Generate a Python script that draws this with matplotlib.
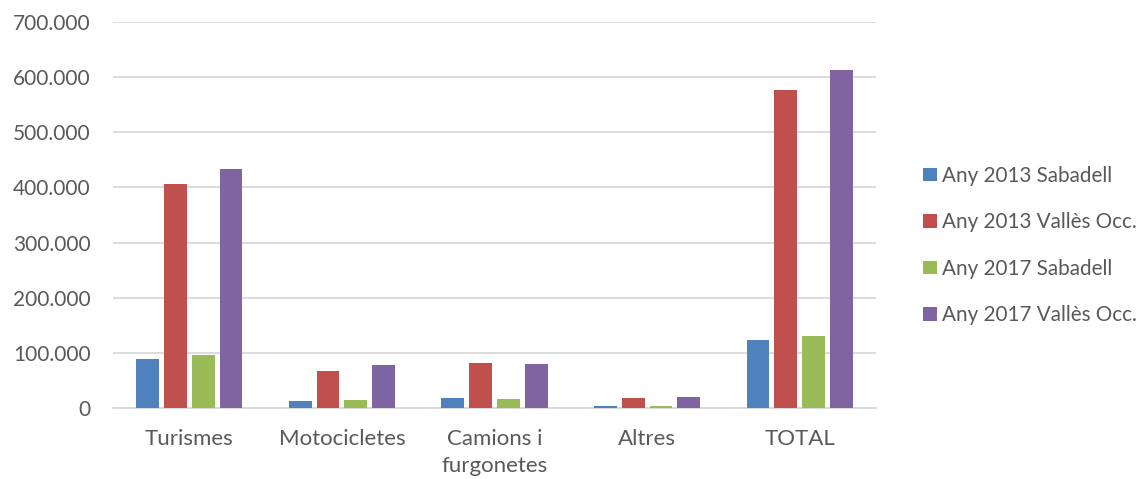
import numpy as np
import matplotlib
matplotlib.use('Agg')
import matplotlib.pyplot as plt
from matplotlib.ticker import FuncFormatter, MultipleLocator

# Categories and series
CATEGORIES = ['Turismes', 'Motocicletes', 'Camions i\nfurgonetes', 'Altres', 'TOTAL']
SERIES_LABELS = ['Any 2013 Sabadell', 'Any 2013 Vallès Occ.',
                 'Any 2017 Sabadell', 'Any 2017 Vallès Occ.']
SAB_2013 = [89700, 12700, 17500, 3200, 123400]
VALL_2013 = [405400, 67000, 82400, 19000, 576400]
SAB_2017 = [95600, 14000, 16700, 3000, 130700]
VALL_2017 = [433800, 77500, 80600, 19500, 612700]
COLORS = ['#4F81BD', '#C0504D', '#9BBB59', '#8064A2']

TEXT_COLOR = '#595959'
GRID_COLOR = '#D9D9D9'


def thousands(v, pos):
    return f'{int(v):,}'.replace(',', '.')


def main():
    plt.rcParams['font.family'] = ['Lato', 'DejaVu Sans']

    fig = plt.figure(figsize=(11.44, 4.79), dpi=100)
    ax = fig.add_axes([0.0988, 0.1482, 0.6669, 0.8058])

    series = [SAB_2013, VALL_2013, SAB_2017, VALL_2017]
    x = np.arange(len(CATEGORIES))
    step = 0.182
    width = 0.15
    for i, (vals, lbl, col) in enumerate(zip(series, SERIES_LABELS, COLORS)):
        offs = (i - 1.5) * step
        ax.bar(x + offs, vals, width=width, color=col, label=lbl,
               linewidth=0, zorder=3)

    ax.set_xlim(-0.5, len(CATEGORIES) - 0.5)
    ax.set_ylim(0, 700000)
    ax.yaxis.set_major_locator(MultipleLocator(100000))
    ax.yaxis.set_major_formatter(FuncFormatter(thousands))
    ax.grid(axis='y', color=GRID_COLOR, linewidth=1.3, zorder=0)
    ax.set_axisbelow(True)

    for side in ['top', 'right', 'left']:
        ax.spines[side].set_visible(False)
    ax.spines['bottom'].set_color(GRID_COLOR)
    ax.spines['bottom'].set_linewidth(1.3)
    ax.spines['bottom'].set_zorder(1)

    ax.set_xticks(x)
    ax.set_xticklabels(CATEGORIES, linespacing=1.45)
    ax.tick_params(axis='x', length=0, pad=15, labelsize=16, labelcolor=TEXT_COLOR)
    ax.tick_params(axis='y', length=0, pad=16, labelsize=15, labelcolor=TEXT_COLOR)

    leg = fig.legend(loc='center left', bbox_to_anchor=(0.8, 0.4875),
                     frameon=False, fontsize=14.9, handlelength=0.65,
                     handleheight=0.65, handletextpad=0.25, labelspacing=1.28,
                     borderaxespad=0)
    for t in leg.get_texts():
        t.set_color(TEXT_COLOR)

    fig.savefig('out.png', dpi=100)


if __name__ == '__main__':
    main()
